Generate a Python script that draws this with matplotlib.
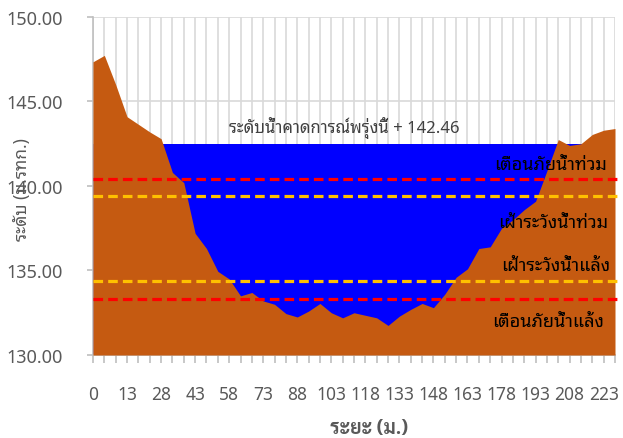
import matplotlib
matplotlib.use("Agg")
import matplotlib.pyplot as plt
import numpy as np

# ---- data ----
distance = [0, 3, 8] + [13 + 5 * k for k in range(44)]
ground = [147.35, 147.73, 146.0, 144.1, 143.65, 143.2, 142.8, 140.8, 140.2, 137.2,
          136.3, 134.95, 134.5, 133.5, 133.7, 133.2, 133.0, 132.45, 132.25, 132.6,
          133.05, 132.5, 132.2, 132.5, 132.35, 132.2, 131.75, 132.3, 132.7, 133.05,
          132.8, 133.6, 134.6, 135.1, 136.3, 136.4, 137.5, 138.0, 138.6, 139.1,
          140.9, 142.75, 142.4, 142.5, 143.05, 143.3, 143.4]
water_level = 142.46
flood_warning = 140.4
flood_watch = 139.4
drought_watch = 134.4
drought_warning = 133.3
yticks = [130, 135, 140, 145, 150]

THAI = ['Noto Sans Thai Looped', 'Noto Sans Thai', 'Sarabun', 'Anuphan', 'DejaVu Sans']
THAI_BOLD = ['Sarabun', 'Bai Jamjuree', 'Noto Sans Thai', 'DejaVu Sans']
NUM = ['Noto Sans', 'DejaVu Sans']

fig = plt.figure(figsize=(6.23, 4.39), dpi=100)
ax = fig.add_axes([93/623, 1-356/439, (615-93)/623, (356-18)/439])

n = len(distance)
x = np.arange(n)
ax.fill_between(x, 130, water_level, color='#0000FF', lw=0, zorder=2)
ax.fill_between(x, 130, ground, color='#C55A11', lw=0, zorder=3)

dash = (0, (3, 1.6))
for val, col in [(flood_warning, '#FF0000'), (flood_watch, '#FFC000'),
                 (drought_watch, '#FFC000'), (drought_warning, '#FF0000')]:
    ax.plot([0, n - 0.55], [val, val], color=col, lw=2.3, ls=dash,
            dash_capstyle='butt', zorder=4, clip_on=False)

ax.set_xlim(0, n - 1)
ax.set_ylim(130, 150)
ax.set_xticks(x)
ax.set_xticklabels([str(d) if i % 3 == 0 else '' for i, d in enumerate(distance)])
ax.set_yticks(yticks)
ax.set_yticklabels([f"{v:.2f}" for v in yticks])
ax.grid(True, color='#D9D9D9', lw=1.2, zorder=0)
ax.set_axisbelow(True)
for s in ['top', 'right']:
    ax.spines[s].set_visible(False)
for s in ['left', 'bottom']:
    ax.spines[s].set_color('#BFBFBF')
    ax.spines[s].set_linewidth(1.2)
ax.tick_params(axis='x', length=5.5, width=1.2, color='#BFBFBF', labelsize=12.5,
               labelcolor='#595959', pad=16)
ax.tick_params(axis='y', length=4.5, width=1.2, color='#BFBFBF', labelsize=13,
               labelcolor='#595959', pad=17)
for lab in ax.get_xticklabels() + ax.get_yticklabels():
    lab.set_family(NUM)

ax.text(22.1, 143.5, "ระดับน้ำคาดการณ์พรุ่งนี้ + 142.46", ha='center', va='center',
        fontsize=12, color='#404040', family=THAI, zorder=6)
ax.text(45.3, 141.3, "เตือนภัยน้ำท่วม", ha='right', va='center', fontsize=13,
        color='black', family=THAI, zorder=6)
ax.text(45.4, 137.85, "เฝ้าระวังน้ำท่วม", ha='right', va='center', fontsize=13,
        color='black', family=THAI, zorder=6)
ax.text(45.55, 135.35, "เฝ้าระวังน้ำแล้ง", ha='right', va='center', fontsize=13,
        color='black', family=THAI, zorder=6)
ax.text(45.0, 132.0, "เตือนภัยน้ำแล้ง", ha='right', va='center', fontsize=13,
        color='black', family=THAI, zorder=6)

fig.text(22/623, 1-190/439, "ระดับ (ม.รทก.)", rotation=90, ha='center', va='center',
         fontsize=12.5, color='#595959', family=THAI)
fig.text(369/623, 1-429/439, "ระยะ (ม.)", ha='center', va='center',
         fontsize=14, fontweight='bold', color='#595959', family=THAI_BOLD)

fig.savefig("out.png", dpi=100)
